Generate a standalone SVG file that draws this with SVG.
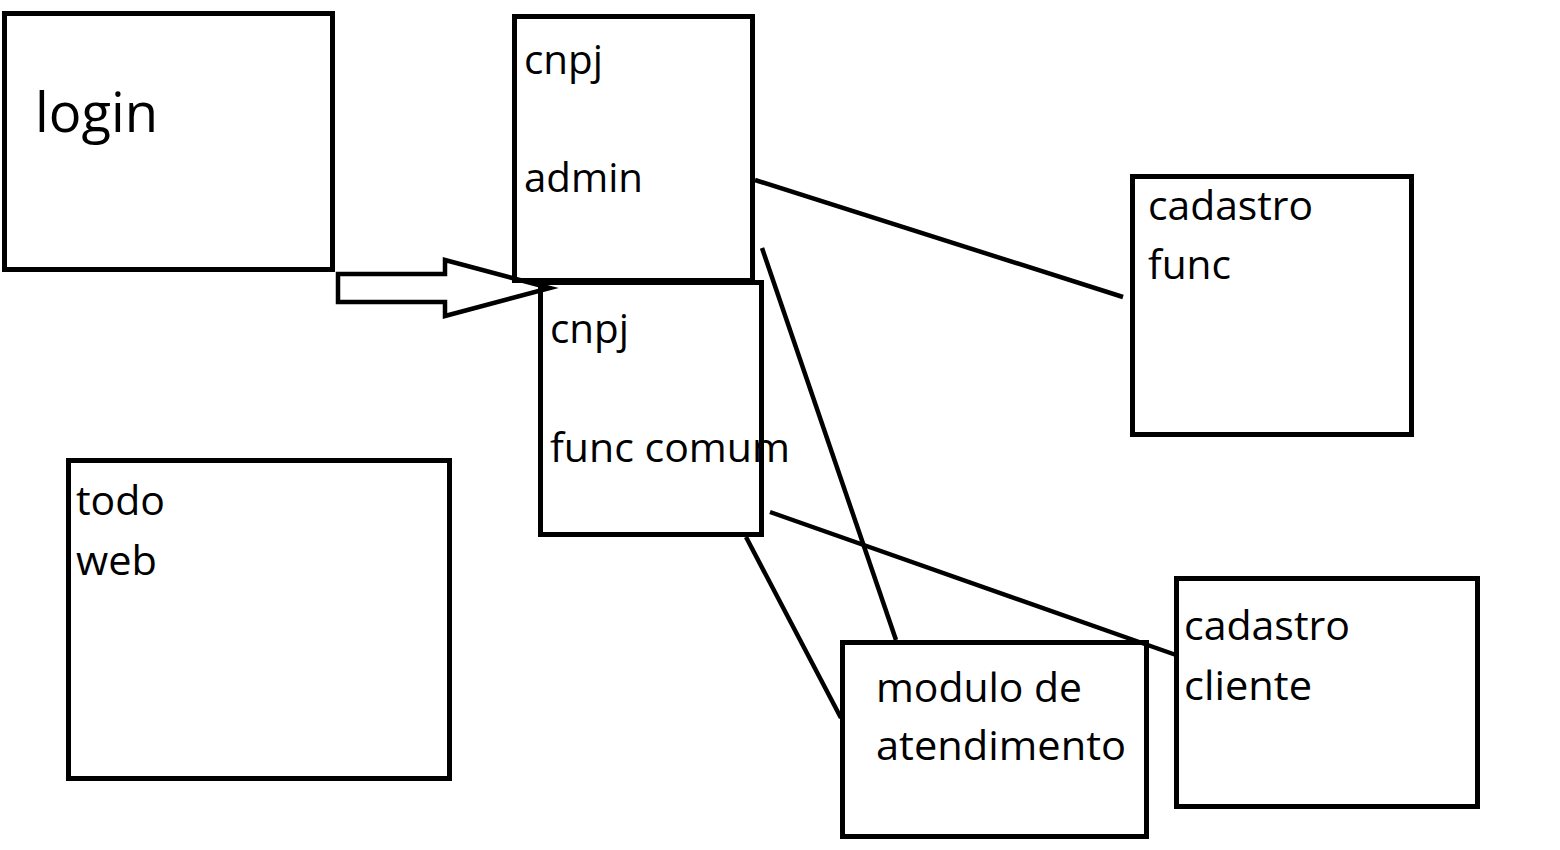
<svg xmlns="http://www.w3.org/2000/svg" width="1560" height="850" viewBox="0 0 1560 850">
<style>
.box{fill:none;stroke:#000;stroke-width:5}
.ln{fill:none;stroke:#000;stroke-width:4.5;stroke-linecap:butt}
.t{font-family:"Open Sans","Liberation Sans",sans-serif;font-size:41px;fill:#000}
.big{font-size:55px}
</style>
<rect width="1560" height="850" fill="#fff"/>
<g id="login">
<rect class="box" x="4.5" y="13.5" width="328" height="256"/>
<text class="t big" x="35" y="132" textLength="123" lengthAdjust="spacingAndGlyphs">login</text>
</g>
<g id="cnpj-admin">
<rect class="box" x="514.5" y="16.5" width="238" height="264"/>
<text class="t" x="524" y="74" textLength="79" lengthAdjust="spacingAndGlyphs">cnpj</text>
<text class="t" x="524" y="192" textLength="119" lengthAdjust="spacingAndGlyphs">admin</text>
</g>
<g id="cnpj-func-comum">
<rect class="box" x="540.5" y="282.5" width="221" height="252"/>
<text class="t" x="550" y="343" textLength="79" lengthAdjust="spacingAndGlyphs">cnpj</text>
<text class="t" x="550" y="462" textLength="240" lengthAdjust="spacingAndGlyphs">func comum</text>
</g>
<g id="cadastro-func">
<rect class="box" x="1132.5" y="176.5" width="279" height="258"/>
<text class="t" x="1148" y="220" textLength="165" lengthAdjust="spacingAndGlyphs">cadastro</text>
<text class="t" x="1148" y="279" textLength="83" lengthAdjust="spacingAndGlyphs">func</text>
</g>
<g id="todo-web">
<rect class="box" x="68.5" y="460.5" width="381" height="318"/>
<text class="t" x="76" y="515" textLength="89" lengthAdjust="spacingAndGlyphs">todo</text>
<text class="t" x="76" y="575" textLength="81" lengthAdjust="spacingAndGlyphs">web</text>
</g>
<g id="modulo-atendimento">
<rect class="box" x="842.5" y="642.5" width="304" height="194"/>
<text class="t" x="876" y="702" textLength="206" lengthAdjust="spacingAndGlyphs">modulo de</text>
<text class="t" x="876" y="760" textLength="250" lengthAdjust="spacingAndGlyphs">atendimento</text>
</g>
<g id="cadastro-cliente">
<rect class="box" x="1176.5" y="578.5" width="301" height="228"/>
<text class="t" x="1184" y="640" textLength="166" lengthAdjust="spacingAndGlyphs">cadastro</text>
<text class="t" x="1184" y="700" textLength="128" lengthAdjust="spacingAndGlyphs">cliente</text>
</g>
<g id="connectors">
<polygon class="ln" stroke-linejoin="miter" points="338,274 445,274 445,260 550,288 445,316 445,302 338,302"/>
<line class="ln" x1="755" y1="180" x2="1123" y2="297"/>
<line class="ln" x1="762" y1="248" x2="896" y2="640"/>
<line class="ln" x1="770" y1="512" x2="1176" y2="655"/>
<line class="ln" x1="746" y1="537" x2="841" y2="718"/>
</g>
</svg>
